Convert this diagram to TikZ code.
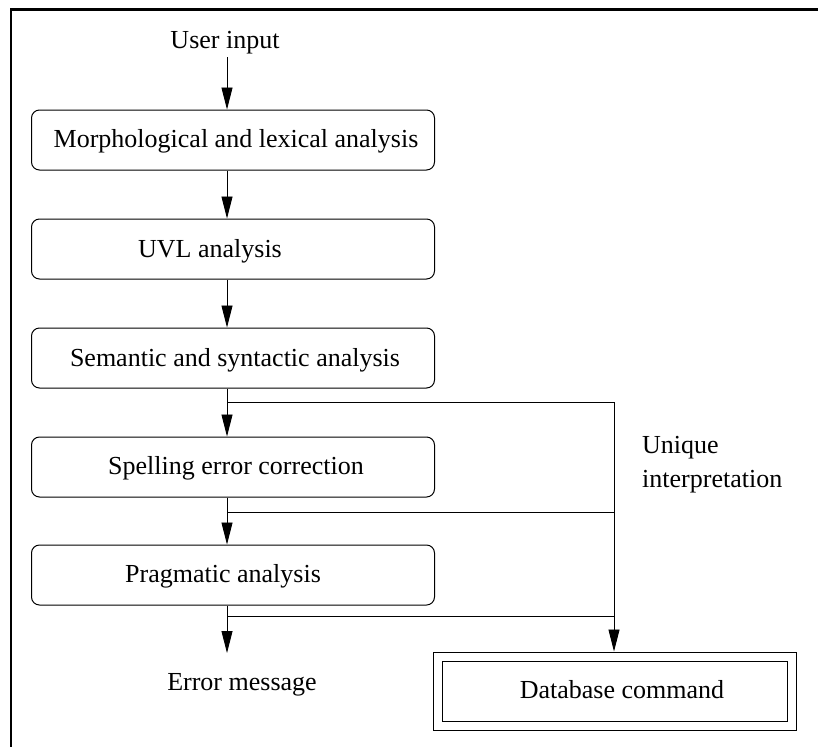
\documentclass[tikz,border=0pt]{standalone}
\usepackage{fontspec}
\setmainfont{Liberation Serif}
\usetikzlibrary{arrows.meta}
\tikzset{
  stagebox/.style={draw, line width=1pt, rounded corners=8pt, minimum width=403pt, minimum height=60pt, inner sep=0pt},
  dbbox/.style={draw, line width=1pt, inner sep=0pt},
  lbl/.style={inner sep=0pt, anchor=base, font=\fontsize{26}{34}\selectfont},
  conn/.style={line width=0.9pt},
  arr/.style={conn, -{Triangle[length=22pt,width=11pt]}},
  frameline/.style={line width=2.8pt}
}
\begin{document}
\begin{tikzpicture}[x=1pt,y=-1pt]
\useasboundingbox (0,0) rectangle (818,747);
% frame (top and left)
\coordinate (fa) at (818,9.5);
\coordinate (fb) at (11,9.5);
\coordinate (fc) at (11,747);
\draw[frameline] (fa) -- (fb) -- (fc);

% boxes
\node[stagebox] (m) at (233,140) {};
\node[stagebox] (u) at (233,249) {};
\node[stagebox] (s) at (233,358) {};
\node[stagebox] (sp) at (233,467) {};
\node[stagebox] (p) at (233,575) {};
\node[dbbox, minimum width=363pt, minimum height=78pt] (dbo) at (614.5,691) {};
\node[dbbox, minimum width=345pt, minimum height=60pt] (dbi) at (614.5,691) {};

% texts
\node[lbl] (tin) at (225,48) {User input};
\node[lbl] (tm) at (236,147) {Morphological and lexical analysis};
\node[lbl] (tu) at (210,257) {UVL analysis};
\node[lbl] (ts) at (235,366) {Semantic and syntactic analysis};
\node[lbl] (tsp) at (236,474) {Spelling error correction};
\node[lbl] (tp) at (223,582) {Pragmatic analysis};
\node[lbl, anchor=base west] (tu1) at (642,453) {Unique};
\node[lbl, anchor=base west] (tu2) at (642,487) {interpretation};
\node[lbl] (terr) at (242,690) {Error message};
\node[lbl] (tdb) at (622,698) {Database command};

% connector coordinates
\coordinate (ax) at (227,0);
\coordinate (bx) at (614,0);
\coordinate (in0) at (227,57);
\coordinate (b1) at (227,402);
\coordinate (b2) at (227,512);
\coordinate (b3) at (227,616);
\coordinate (r1) at (614,402);
\coordinate (r2) at (614,512);
\coordinate (r3) at (614,616);
\coordinate (errtop) at (227,653);

% main chain
\draw[arr] (in0) -- (m.north -| ax);
\draw[arr] (m.south -| ax) -- (u.north -| ax);
\draw[arr] (u.south -| ax) -- (s.north -| ax);
\draw[arr] (s.south -| ax) -- (sp.north -| ax);
\draw[arr] (sp.south -| ax) -- (p.north -| ax);
\draw[arr] (p.south -| ax) -- (errtop);

% branches to database command
\draw[conn] (b1) -- (r1);
\draw[conn] (b2) -- (r2);
\draw[conn] (b3) -- (r3);
\draw[arr] (r1) -- (dbo.north -| bx);
\end{tikzpicture}
\end{document}
